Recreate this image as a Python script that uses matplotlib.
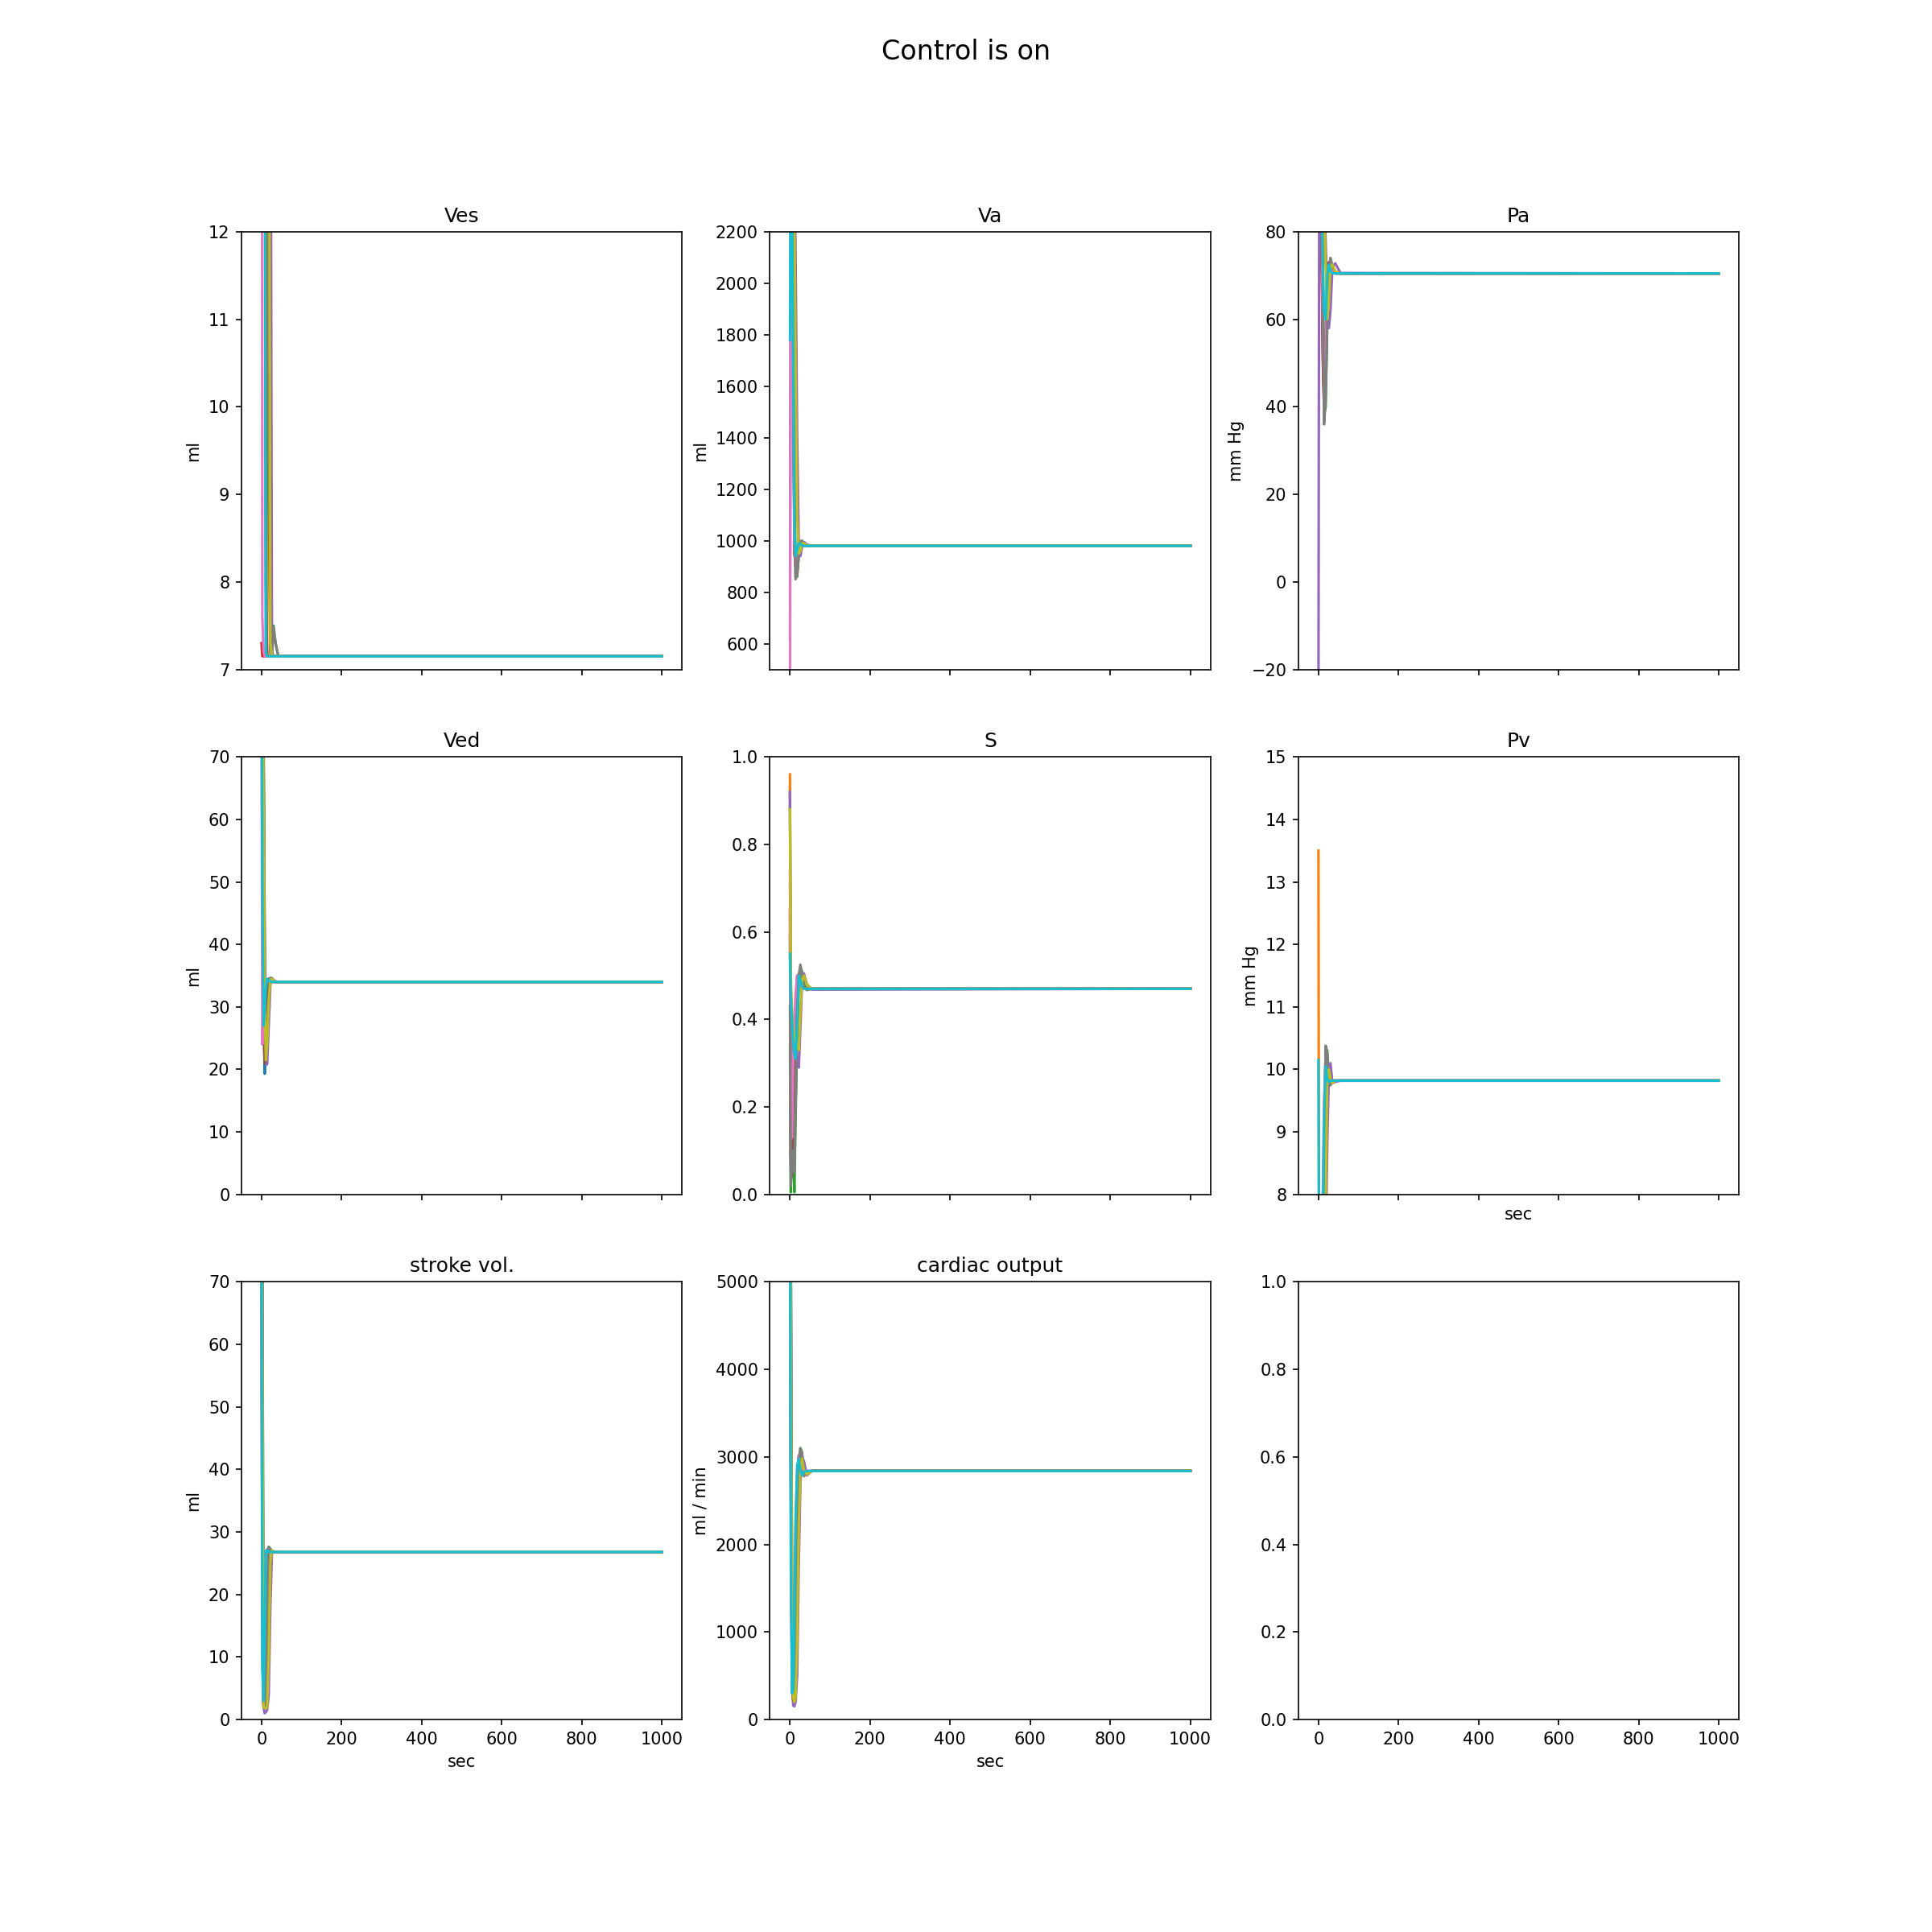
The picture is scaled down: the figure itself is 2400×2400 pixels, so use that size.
import matplotlib
matplotlib.use("Agg")
import matplotlib.pyplot as plt

# common time grid (sec)
TIME = [0, 2, 5, 8, 11, 14, 18, 22, 26, 30, 35, 42, 55, 1000]

VES = [
    [40, 35, 28, 20, 7.2, 7.15, 7.15, 7.15, 7.15, 7.15, 7.15, 7.15, 7.15, 7.15],
    [42, 38, 32, 25, 15, 7.2, 7.15, 7.15, 7.15, 7.15, 7.15, 7.15, 7.15, 7.15],
    [45, 42, 36, 30, 24, 18, 9, 7.2, 7.15, 7.5, 7.3, 7.15, 7.15, 7.15],
    [7.3, 7.15, 7.15, 7.15, 7.15, 7.15, 7.15, 7.15, 7.15, 7.15, 7.15, 7.15, 7.15, 7.15],
    [50, 46, 42, 38, 34, 30, 24, 16, 7.2, 7.15, 7.15, 7.15, 7.15, 7.15],
    [38, 34, 26, 18, 8, 7.15, 7.15, 7.15, 7.15, 7.15, 7.15, 7.15, 7.15, 7.15],
    [30, 7.6, 7.2, 7.15, 7.15, 7.15, 7.15, 7.15, 7.15, 7.15, 7.15, 7.15, 7.15, 7.15],
    [46, 43, 37, 31, 25, 19, 10, 7.2, 7.15, 7.48, 7.3, 7.15, 7.15, 7.15],
    [48, 44, 40, 35, 30, 24, 17, 7.3, 7.15, 7.15, 7.15, 7.15, 7.15, 7.15],
    [36, 30, 22, 14, 7.2, 7.15, 7.15, 7.15, 7.15, 7.15, 7.15, 7.15, 7.15, 7.15],
]

VA = [
    [2600, 3000, 2600, 1800, 1000, 920, 950, 985, 995, 988, 981, 980, 980, 980],
    [2800, 3100, 2800, 2000, 1100, 900, 930, 980, 998, 990, 982, 980, 980, 980],
    [3000, 3300, 3000, 2400, 1300, 860, 860, 940, 995, 1000, 985, 980, 980, 980],
    [2500, 2900, 2400, 1600, 950, 910, 960, 990, 990, 983, 980, 980, 980, 980],
    [620, 2600, 3100, 2900, 2600, 2100, 1400, 980, 940, 975, 995, 985, 980, 980],
    [2700, 3000, 2700, 1900, 1050, 900, 940, 985, 995, 987, 981, 980, 980, 980],
    [400, 1770, 2600, 1800, 1000, 910, 950, 985, 992, 985, 980, 980, 980, 980],
    [3000, 3300, 3000, 2300, 1200, 850, 870, 950, 998, 998, 984, 980, 980, 980],
    [2900, 3200, 3000, 2700, 2300, 1700, 1100, 950, 960, 990, 990, 982, 980, 980],
    [1780, 2700, 2400, 1700, 1050, 940, 965, 990, 988, 981, 980, 980, 980, 980],
]

PA = [
    [90, 100, 95, 80, 55, 42, 50, 66, 73, 73, 71, 70.5, 70.5, 70.5],
    [92, 102, 98, 85, 60, 44, 48, 63, 72, 73.5, 71.5, 70.6, 70.5, 70.5],
    [95, 105, 102, 95, 75, 38, 40, 58, 70, 74, 72, 70.8, 70.5, 70.5],
    [88, 98, 92, 75, 50, 40, 54, 68, 73, 72, 70.8, 70.5, 70.5, 70.5],
    [-30, 100, 110, 105, 98, 90, 78, 64, 58, 62, 72, 72.8, 70.6, 70.5],
    [90, 100, 94, 78, 52, 41, 51, 67, 73, 72.5, 71, 70.5, 70.5, 70.5],
    [88, 95, 100, 85, 60, 45, 52, 66, 72, 72.5, 71, 70.5, 70.5, 70.5],
    [95, 105, 102, 95, 72, 36, 42, 60, 71, 74, 72, 70.8, 70.5, 70.5],
    [96, 104, 103, 100, 95, 88, 72, 60, 64, 72, 72.5, 71, 70.5, 70.5],
    [85, 95, 92, 85, 72, 62, 60, 70, 72.5, 71, 70.5, 70.5, 70.5, 70.5],
]

VED = [
    [95, 75, 30, 19.3, 26, 31, 34.5, 34.4, 34.2, 34.1, 34, 34, 34, 34],
    [100, 88, 55, 24, 21.5, 27, 33, 34.5, 34.3, 34.1, 34, 34, 34, 34],
    [110, 100, 75, 40, 24, 24, 31, 34.6, 34.6, 34.2, 34, 34, 34, 34],
    [92, 70, 27, 21, 27, 32, 34.5, 34.3, 34.1, 34, 34, 34, 34, 34],
    [105, 95, 70, 38, 22, 20.8, 27, 33.5, 34.6, 34.3, 34.1, 34, 34, 34],
    [96, 78, 35, 21, 25, 30, 34.3, 34.4, 34.1, 34, 34, 34, 34, 34],
    [80, 24, 30, 33, 34.5, 34.3, 34.1, 34, 34, 34, 34, 34, 34, 34],
    [108, 98, 72, 38, 23, 24, 31, 34.6, 34.5, 34.2, 34, 34, 34, 34],
    [102, 92, 62, 30, 21.5, 24, 31, 34.3, 34.5, 34.2, 34, 34, 34, 34],
    [85, 50, 27, 30, 33, 34.5, 34.3, 34.1, 34, 34, 34, 34, 34, 34],
]

S_VAL = [
    [0.93, 0.45, 0.30, 0.20, 0.25, 0.38, 0.48, 0.50, 0.49, 0.475, 0.47, 0.47, 0.47, 0.47],
    [0.96, 0.35, 0.28, 0.22, 0.28, 0.40, 0.49, 0.505, 0.49, 0.475, 0.47, 0.47, 0.47, 0.47],
    [0.34, 0.005, 0.10, 0.12, 0.005, 0.18, 0.35, 0.48, 0.52, 0.51, 0.48, 0.468, 0.47, 0.47],
    [0.65, 0.09, 0.25, 0.22, 0.30, 0.42, 0.50, 0.49, 0.475, 0.47, 0.47, 0.47, 0.47, 0.47],
    [0.92, 0.17, 0.25, 0.30, 0.33, 0.33, 0.31, 0.29, 0.38, 0.48, 0.505, 0.48, 0.468, 0.47],
    [0.59, 0.07, 0.04, 0.20, 0.28, 0.40, 0.49, 0.50, 0.485, 0.47, 0.47, 0.47, 0.47, 0.47],
    [0.74, 0.16, 0.13, 0.30, 0.40, 0.46, 0.50, 0.49, 0.475, 0.47, 0.47, 0.47, 0.47, 0.47],
    [0.43, 0.02, 0.08, 0.10, 0.05, 0.20, 0.38, 0.50, 0.525, 0.50, 0.475, 0.467, 0.47, 0.47],
    [0.88, 0.50, 0.42, 0.38, 0.36, 0.35, 0.34, 0.33, 0.42, 0.49, 0.50, 0.48, 0.47, 0.47],
    [0.55, 0.45, 0.40, 0.35, 0.32, 0.31, 0.40, 0.50, 0.49, 0.475, 0.47, 0.47, 0.47, 0.47],
]

PV = [
    [6.0, 5.0, 4.8, 5.5, 6.8, 8.6, 10.2, 10.0, 9.8, 9.78, 9.82, 9.82, 9.82, 9.82],
    [13.5, 5.5, 4.8, 5.3, 6.5, 8.2, 10.1, 10.05, 9.82, 9.78, 9.82, 9.82, 9.82, 9.82],
    [6.5, 4.5, 4.2, 4.6, 5.5, 7.2, 10.35, 10.3, 9.9, 9.75, 9.8, 9.82, 9.82, 9.82],
    [6.2, 5.2, 5.0, 5.8, 7.2, 9.0, 10.25, 9.95, 9.8, 9.8, 9.82, 9.82, 9.82, 9.82],
    [5.0, 4.5, 4.0, 4.2, 4.8, 5.5, 7.0, 8.8, 9.9, 10.1, 9.78, 9.8, 9.82, 9.82],
    [6.1, 5.1, 4.9, 5.6, 7.0, 8.8, 10.3, 10.0, 9.8, 9.79, 9.82, 9.82, 9.82, 9.82],
    [7.0, 5.5, 5.5, 6.5, 8.0, 9.5, 10.15, 9.9, 9.8, 9.82, 9.82, 9.82, 9.82, 9.82],
    [6.5, 4.5, 4.2, 4.6, 5.5, 7.3, 10.38, 10.25, 9.85, 9.75, 9.8, 9.82, 9.82, 9.82],
    [5.5, 4.8, 4.5, 4.8, 5.2, 6.2, 7.8, 9.8, 10.0, 9.85, 9.78, 9.82, 9.82, 9.82],
    [10.15, 5.5, 5.2, 6.0, 7.5, 9.2, 10.05, 9.85, 9.8, 9.82, 9.82, 9.82, 9.82, 9.82],
]

STROKE_VOL = [
    [80, 20, 2.5, 6, 20, 27, 27.2, 26.9, 26.8, 26.8, 26.8, 26.8, 26.8, 26.8],
    [85, 45, 3, 2.5, 8, 22, 27.3, 27, 26.8, 26.8, 26.8, 26.8, 26.8, 26.8],
    [95, 75, 8, 2, 3, 15, 27.6, 27.3, 26.6, 26.8, 26.8, 26.8, 26.8, 26.8],
    [78, 15, 2.2, 8, 24, 27.2, 26.9, 26.8, 26.8, 26.8, 26.8, 26.8, 26.8, 26.8],
    [90, 60, 2, 1, 1.2, 1.5, 4, 18, 27, 26.9, 26.8, 26.8, 26.8, 26.8],
    [82, 30, 2.8, 5, 18, 27, 27.1, 26.8, 26.8, 26.8, 26.8, 26.8, 26.8, 26.8],
    [75, 10, 3, 10, 25, 27.1, 26.8, 26.8, 26.8, 26.8, 26.8, 26.8, 26.8, 26.8],
    [95, 80, 10, 2.2, 4, 18, 27.6, 27.3, 26.7, 26.8, 26.8, 26.8, 26.8, 26.8],
    [88, 55, 2, 1.8, 1.8, 2, 10, 25, 27.1, 26.8, 26.8, 26.8, 26.8, 26.8],
    [80, 8, 3, 15, 27, 27.1, 26.8, 26.8, 26.8, 26.8, 26.8, 26.8, 26.8, 26.8],
]

CARDIAC_OUTPUT = [
    [6000, 3000, 400, 250, 800, 1800, 2700, 3000, 3050, 2950, 2800, 2830, 2840, 2840],
    [6500, 4000, 600, 200, 300, 1200, 2400, 2950, 3080, 3000, 2800, 2820, 2840, 2840],
    [7000, 5500, 1500, 300, 200, 600, 1900, 2800, 3100, 3050, 2790, 2820, 2840, 2840],
    [5800, 2800, 350, 300, 900, 1900, 2750, 3000, 3000, 2900, 2810, 2835, 2840, 2840],
    [6800, 5000, 1200, 160, 150, 200, 500, 1800, 2700, 3000, 2950, 2790, 2840, 2840],
    [6200, 3500, 450, 220, 700, 1700, 2650, 3000, 3060, 2960, 2800, 2830, 2840, 2840],
    [5500, 2500, 300, 400, 1200, 2200, 2850, 3000, 2950, 2880, 2820, 2840, 2840, 2840],
    [7200, 5800, 1600, 320, 220, 700, 2000, 2850, 3100, 3050, 2780, 2820, 2840, 2840],
    [6600, 4500, 800, 250, 200, 250, 900, 2200, 2850, 2980, 2850, 2800, 2840, 2840],
    [6000, 2000, 300, 350, 1200, 2300, 2900, 2980, 2850, 2790, 2830, 2840, 2840, 2840],
]

TITLES = ["Ves", "Va", "Pa", "Ved", "S", "Pv", "stroke vol.", "cardiac output"]
YLABELS = ["ml", "ml", "mm Hg", "ml", "", "mm Hg", "ml", "ml / min"]
YLIMS = [(7, 12), (500, 2200), (-20, 80), (0, 70), (0, 1), (8, 15), (0, 70), (0, 5000)]
PANELS = [VES, VA, PA, VED, S_VAL, PV, STROKE_VOL, CARDIAC_OUTPUT]

fig, axs = plt.subplots(3, 3, sharex=True, figsize=(16, 16), dpi=150)
fig.suptitle("Control is on", fontsize=16)
flat = axs.flatten()
for ax, runs, title, ylab, ylim in zip(flat, PANELS, TITLES, YLABELS, YLIMS):
    for run in runs:
        ax.plot(TIME, run)
    ax.set_title(title)
    if ylab:
        ax.set_ylabel(ylab)
    ax.set_ylim(*ylim)

axs[1, 2].set_xlabel("sec")
axs[2, 0].set_xlabel("sec")
axs[2, 1].set_xlabel("sec")

fig.savefig("out.png", dpi=150)
